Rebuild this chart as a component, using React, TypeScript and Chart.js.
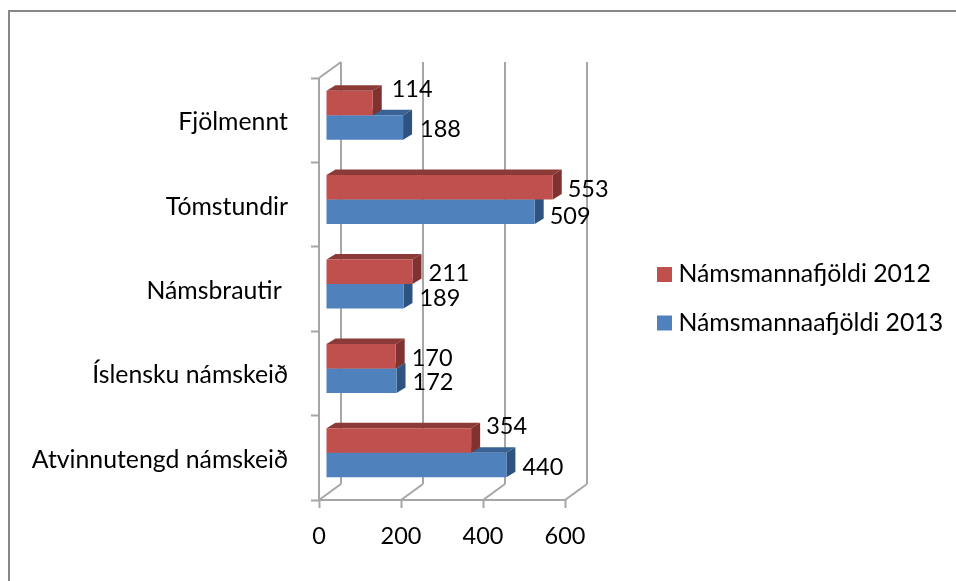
import React, { useEffect, useRef } from "react";
import { Chart, registerables } from "chart.js";

Chart.register(...registerables);

const categories = ["Fjölmennt", "Tómstundir", "Námsbrautir ", "Íslensku námskeið", "Atvinnutengd námskeið"];
const students2012 = [114, 553, 211, 170, 354];
const students2013 = [188, 509, 189, 172, 440];
const xTicks = [0, 200, 400, 600];
const series2012 = "Námsmannafjöldi 2012";
const series2013 = "Námsmannaafjöldi 2013";

const FONT = "Lato, Carlito, sans-serif";
const FONT_SIZE = 24.8;
const NUM_SIZE = 23.5;
const WALL = "#a6a6a6";
const FRAME = "#888888";
// projection of the 3D chart box and of the bars inside it
const WALL_DX = 22;
const WALL_DY = -16;
const BAR_SHIFT_X = 7;
const BAR_SHIFT_Y = -5;
const BAR_DX = 9;
const BAR_DY = -5.5;
const faces = [
  { front: "#c0504d", top: "#8c3a38", side: "#7f3230" },
  { front: "#4f81bd", top: "#3a6294", side: "#2e5380" },
];
// hand-placed label nudges of the original [dataset][category]
const labelNudgeY = [
  [-14, 2, 2, 2, -14.5],
  [2, 5, 2, 2, 2],
];
const labelNudgeX = [
  [3, -1, 0, 0, -1],
  [1, -1, 0, 0, 0],
];

function line(ctx: CanvasRenderingContext2D, x1: number, y1: number, x2: number, y2: number) {
  ctx.beginPath();
  ctx.moveTo(x1, y1);
  ctx.lineTo(x2, y2);
  ctx.stroke();
}

function poly(ctx: CanvasRenderingContext2D, pts: number[][], fill: string) {
  ctx.fillStyle = fill;
  ctx.beginPath();
  pts.forEach((p, i) => (i ? ctx.lineTo(p[0], p[1]) : ctx.moveTo(p[0], p[1])));
  ctx.closePath();
  ctx.fill();
}

const scene3d = {
  id: "scene3d",
  afterLayout(chart: any) {
    const l = chart.legend;
    l.left = 639.3;
    l.right = 956;
    l.top = 238.4;
    l.bottom = 580;
  },
  beforeDraw(chart: any) {
    const ctx = chart.ctx;
    ctx.save();
    ctx.fillStyle = "#ffffff";
    ctx.fillRect(0, 0, 956, 581);
    ctx.fillStyle = FRAME;
    ctx.fillRect(8, 10, 2, 571);
    ctx.fillRect(8, 10, 948, 2);
    ctx.restore();
  },
  beforeDatasetsDraw(chart: any) {
    const ctx = chart.ctx;
    const x = chart.scales.x;
    const { top, bottom, left, right } = chart.chartArea;
    ctx.save();
    ctx.strokeStyle = WALL;
    ctx.lineWidth = 2;
    xTicks.forEach((v) => {
      const px = x.getPixelForValue(v);
      line(ctx, px + WALL_DX, top + WALL_DY, px + WALL_DX, bottom + WALL_DY);
      line(ctx, px, bottom, px + WALL_DX, bottom + WALL_DY);
    });
    line(ctx, left, top, left + WALL_DX, top + WALL_DY);
    line(ctx, left, top, left, bottom);
    line(ctx, left, bottom, right, bottom);
    ctx.restore();
    ctx.save();
    ctx.translate(BAR_SHIFT_X, BAR_SHIFT_Y);
  },
  beforeDatasetDraw(chart: any, args: any) {
    const ctx = chart.ctx;
    const c = faces[args.index];
    chart.getDatasetMeta(args.index).data.forEach((bar: any) => {
      const { x, y, base, height } = bar.getProps(["x", "y", "base", "height"], true);
      const t = y - height / 2;
      const b = y + height / 2;
      poly(ctx, [[base, t], [x, t], [x + BAR_DX, t + BAR_DY], [base + BAR_DX, t + BAR_DY]], c.top);
      poly(ctx, [[x, t], [x + BAR_DX, t + BAR_DY], [x + BAR_DX, b + BAR_DY], [x, b]], c.side);
    });
  },
  afterDatasetsDraw(chart: any) {
    const ctx = chart.ctx;
    ctx.save();
    ctx.fillStyle = "#000000";
    ctx.font = `${NUM_SIZE}px ${FONT}`;
    ctx.textAlign = "left";
    ctx.textBaseline = "middle";
    chart.data.datasets.forEach((ds: any, d: number) => {
      chart.getDatasetMeta(d).data.forEach((bar: any, i: number) => {
        const { x, y } = bar.getProps(["x", "y"], true);
        ctx.fillText(String(ds.data[i]), x + 16 + labelNudgeX[d][i], y + labelNudgeY[d][i]);
      });
    });
    ctx.restore();
    ctx.restore();
  },
};

export default function App() {
  const ref = useRef<HTMLCanvasElement | null>(null);
  useEffect(() => {
    document.body.style.margin = "0";
    const chart = new Chart(ref.current as HTMLCanvasElement, {
      type: "bar",
      data: {
        labels: categories,
        datasets: [
          { label: series2012, data: students2012, backgroundColor: faces[0].front, borderWidth: 0, clip: false },
          { label: series2013, data: students2013, backgroundColor: faces[1].front, borderWidth: 0, clip: false },
        ],
      } as any,
      options: {
        indexAxis: "y",
        responsive: false,
        animation: false,
        maintainAspectRatio: false,
        layout: { padding: { top: 78, left: 0, right: 390, bottom: 21 } },
        datasets: { bar: { barPercentage: 1, categoryPercentage: 0.58 } },
        plugins: {
          tooltip: { enabled: false },
          title: { display: false },
          legend: {
            display: true,
            position: "right",
            align: "start",
            maxWidth: 1,
            labels: {
              color: "#000000",
              font: { family: FONT, size: FONT_SIZE },
              boxWidth: 3,
              boxHeight: 3,
              padding: 23.7,
              generateLabels: (chart: any) =>
                Chart.defaults.plugins.legend.labels.generateLabels(chart).map((item: any, i: number) => ({
                  ...item,
                  strokeStyle: faces[i].front,
                  lineWidth: 12,
                })),
            },
          },
        },
        scales: {
          x: {
            type: "linear",
            min: 0,
            max: 600,
            afterBuildTicks: (axis: any) => {
              axis.ticks = xTicks.map((value) => ({ value }));
            },
            afterFit: (axis: any) => {
              axis.height = 60;
            },
            border: { display: false },
            grid: { drawOnChartArea: false, drawTicks: true, tickLength: 8, tickWidth: 2, tickColor: WALL },
            ticks: { color: "#000000", font: { family: FONT, size: NUM_SIZE }, padding: 14, maxRotation: 0 },
          },
          y: {
            type: "category",
            offset: true,
            afterFit: (axis: any) => {
              axis.width = 319;
            },
            border: { display: false },
            grid: { offset: true, drawOnChartArea: false, drawTicks: true, tickLength: 8, tickWidth: 2, tickColor: WALL },
            ticks: {
              color: "#000000",
              font: { family: FONT, size: FONT_SIZE },
              padding: 23,
              labelOffset: 2,
              autoSkip: false,
              maxRotation: 0,
            },
          },
        },
      } as any,
      plugins: [scene3d as any],
    });
    return () => chart.destroy();
  }, []);
  return (
    <canvas
      ref={ref}
      width={956}
      height={581}
      style={{ display: "block", width: 956, height: 581, filter: "blur(0.35px)" }}
    />
  );
}
